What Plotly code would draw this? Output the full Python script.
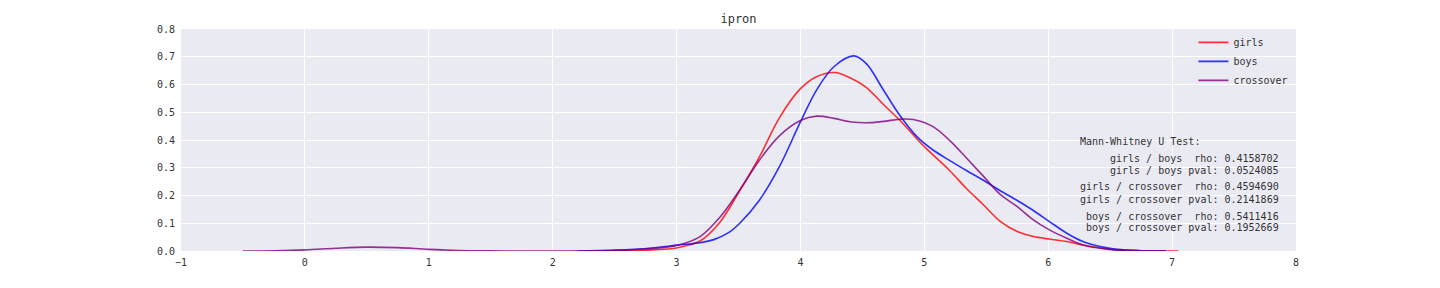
import plotly.graph_objects as go

girls_x = [2.3, 2.6, 2.8, 3.0, 3.1, 3.19, 3.35, 3.5, 3.67, 3.83, 4.0, 4.13, 4.28, 4.4, 4.53, 4.67,
           4.8, 5.0, 5.2, 5.34, 5.48, 5.61, 5.75, 5.88, 6.01, 6.15, 6.28, 6.42, 6.55, 6.75, 7.05]
girls_y = [0.0, 0.001, 0.004, 0.011, 0.022, 0.036, 0.104, 0.21, 0.34, 0.48, 0.585, 0.628, 0.643, 0.624,
           0.59, 0.528, 0.472, 0.376, 0.292, 0.225, 0.165, 0.108, 0.07, 0.052, 0.043, 0.034, 0.022,
           0.011, 0.005, 0.001, 0.0]

boys_x = [2.2, 2.5, 2.8, 3.0, 3.19, 3.3, 3.42, 3.51, 3.67, 3.83, 4.0, 4.13, 4.27, 4.43, 4.53, 4.67, 4.8,
          4.94, 5.07, 5.21, 5.34, 5.48, 5.61, 5.75, 5.88, 6.01, 6.15, 6.28, 6.42, 6.55, 6.75, 6.95]
boys_y = [0.0, 0.003, 0.011, 0.021, 0.03, 0.041, 0.066, 0.10, 0.184, 0.304, 0.465, 0.58, 0.664, 0.703,
          0.676, 0.58, 0.49, 0.412, 0.364, 0.325, 0.29, 0.254, 0.218, 0.182, 0.146, 0.106, 0.064, 0.034,
          0.016, 0.006, 0.001, 0.0]

cross_x = [-0.5, -0.25, 0.0, 0.25, 0.5, 0.75, 1.0, 1.25, 1.5, 1.75, 2.0, 2.25, 2.5, 2.75, 3.0, 3.19,
           3.35, 3.51, 3.67, 3.83, 4.0, 4.13, 4.27, 4.4, 4.53, 4.67, 4.8, 4.91, 5.07, 5.21, 5.34,
           5.48, 5.61, 5.75, 5.88, 6.01, 6.15, 6.28, 6.42, 6.55, 6.75, 6.95]
cross_y = [0.0, 0.001, 0.004, 0.010, 0.014, 0.012, 0.006, 0.002, 0.0005, 0.0, 0.0, 0.0003, 0.002,
           0.007, 0.02, 0.052, 0.122, 0.22, 0.328, 0.415, 0.47, 0.486, 0.478, 0.466, 0.462, 0.467,
           0.475, 0.474, 0.448, 0.396, 0.335, 0.268, 0.205, 0.16, 0.112, 0.076, 0.046, 0.022, 0.010,
           0.003, 0.001, 0.0]

stats_header = "Mann-Whitney U Test:"
stats_lines = [
    "girls / boys  rho: 0.4158702",
    "girls / boys pval: 0.0524085",
    "girls / crossover  rho: 0.4594690",
    "girls / crossover pval: 0.2141869",
    "boys / crossover  rho: 0.5411416",
    "boys / crossover pval: 0.1952669",
]
stats_y = [0.334, 0.289, 0.231, 0.186, 0.125, 0.086]

FONT = "DejaVu Sans Mono"
TXT = "#333333"

fig = go.Figure()
for name, xs, ys, col in [
    ("girls", girls_x, girls_y, "rgba(255,0,0,0.8)"),
    ("boys", boys_x, boys_y, "rgba(0,0,255,0.8)"),
    ("crossover", cross_x, cross_y, "rgba(128,0,128,0.8)"),
]:
    fig.add_trace(go.Scatter(x=xs, y=ys, name=name, mode="lines",
                             line=dict(color=col, width=1.6, shape="spline", smoothing=1.0)))

fig.add_annotation(x=6.24, y=0.393, xref="x", yref="y", text=stats_header, showarrow=False,
                   xanchor="left", yanchor="middle", font=dict(family=FONT, size=10, color=TXT))
for t, yy in zip(stats_lines, stats_y):
    fig.add_annotation(x=7.878, y=yy, xref="x", yref="y", text=t.replace(" ", "&nbsp;"), showarrow=False,
                       xanchor="right", yanchor="middle", font=dict(family=FONT, size=10, color=TXT))

fig.update_layout(
    width=1440, height=288,
    margin=dict(l=181, r=144, t=29, b=37),
    paper_bgcolor="white", plot_bgcolor="#EAEAF2",
    font=dict(family=FONT, size=10, color=TXT),
    title=dict(text="ipron", x=0.5, xref="paper", xanchor="center", y=0.935, yanchor="middle",
               font=dict(family=FONT, size=12, color=TXT)),
    legend=dict(x=0.908, y=1.005, xanchor="left", yanchor="top", bgcolor="rgba(0,0,0,0)",
                font=dict(family=FONT, size=10, color=TXT), itemwidth=30, tracegroupgap=0),
    showlegend=True,
)
fig.update_xaxes(range=[-1, 8], dtick=1, tick0=0, showgrid=True, gridcolor="white", gridwidth=1,
                 zeroline=False, showline=False, ticks="", ticklabelstandoff=4,
                 tickfont=dict(family=FONT, size=10, color=TXT))
fig.update_yaxes(range=[0, 0.8], dtick=0.1, tick0=0, tickformat=".1f", showgrid=True, gridcolor="white",
                 gridwidth=1, zeroline=False, showline=False, ticks="", ticklabelstandoff=5,
                 tickfont=dict(family=FONT, size=10, color=TXT))

fig.write_html("out.html")
